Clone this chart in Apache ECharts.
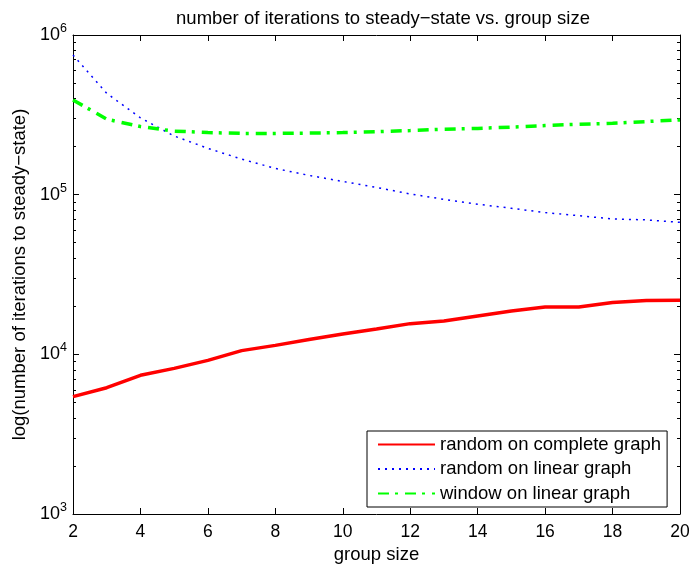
<!DOCTYPE html>
<html>
<head>
<meta charset="utf-8">
<script src="https://cdn.jsdelivr.net/npm/echarts@6/dist/echarts.min.js"></script>
<style>
  html, body { margin: 0; padding: 0; background: #fff; }
  #chart { width: 691px; height: 565px; }
</style>
</head>
<body>
<div id="chart"></div>
<script>
// group sizes on the x axis
var groupSizes = [2, 3, 4, 5, 6, 7, 8, 9, 10, 11, 12, 13, 14, 15, 16, 17, 18, 19, 20];
// iterations to steady-state
var randomComplete = [5430, 6180, 7390, 8170, 9170, 10550, 11380, 12400, 13400, 14400,
  15570, 16180, 17400, 18660, 19770, 19770, 21100, 21700, 21800];
var randomLinear = [750000, 431000, 303000, 233000, 195000, 167000, 146000, 132000, 121000, 111000,
  101000, 93500, 87100, 82200, 77200, 73900, 70400, 69500, 67100];
var windowLinear = [392000, 297000, 267000, 250000, 245000, 242000, 242000, 243000, 245000, 248000,
  252000, 257000, 260000, 265000, 271000, 276000, 280000, 287000, 294000];
var seriesNames = ['random on complete graph', 'random on linear graph', 'window on linear graph'];
// minor ticks of the log axis
var minorTicks = [2000, 3000, 4000, 5000, 6000, 7000, 8000, 9000,
  20000, 30000, 40000, 50000, 60000, 70000, 80000, 90000,
  200000, 300000, 400000, 500000, 600000, 700000, 800000, 900000];

var FONT = 'Liberation Sans, Arial, sans-serif';
var FS = 18.5;
var chart = echarts.init(document.getElementById('chart'));

function pairs(ys) {
  return groupSizes.map(function (x, i) { return [x, ys[i]]; });
}

function logAxis(pos, major) {
  return {
    type: 'log',
    logBase: 10,
    position: pos,
    min: 1000,
    max: 1000000,
    axisLine: { show: major, lineStyle: { color: '#000', width: 1 } },
    axisTick: major
      ? { inside: true, length: 6, lineStyle: { color: '#000' } }
      : { inside: true, length: 3, customValues: minorTicks, lineStyle: { color: '#000' } },
    splitLine: { show: false },
    axisLabel: { show: false }
  };
}

var yLeft = logAxis('left', true);
yLeft.name = 'log(number of iterations to steady\u2212state)';
yLeft.nameLocation = 'middle';
yLeft.nameGap = 39;
yLeft.nameTextStyle = { fontFamily: FONT, fontSize: FS, color: '#000' };
yLeft.axisLabel = {
  show: true,
  margin: 6,
  formatter: function (v) {
    return '{b|10}{s|' + Math.round(Math.log10(v)) + '}';
  },
  rich: {
    b: { fontFamily: FONT, fontSize: 18, color: '#000' },
    s: { fontFamily: FONT, fontSize: 12.5, color: '#000', padding: [0, 0, 13, 0] }
  }
};

function xAxis(pos, labels) {
  return {
    type: 'value',
    position: pos,
    min: 2,
    max: 20,
    interval: 2,
    axisLine: { show: true, onZero: false, lineStyle: { color: '#000', width: 1 } },
    axisTick: { inside: true, length: 6, lineStyle: { color: '#000' } },
    splitLine: { show: false },
    axisLabel: labels
      ? { show: true, margin: 9, fontFamily: FONT, fontSize: 17.5, color: '#000' }
      : { show: false }
  };
}

var xBottom = xAxis('bottom', true);
xBottom.name = 'group size';
xBottom.nameLocation = 'middle';
xBottom.nameGap = 30;
xBottom.nameTextStyle = { fontFamily: FONT, fontSize: FS, color: '#000' };

var option = {
  backgroundColor: '#fff',
  animation: false,
  title: {
    text: 'number of iterations to steady\u2212state vs. group size',
    left: 378,
    textAlign: 'center',
    top: 4,
    textStyle: { fontFamily: FONT, fontSize: FS, fontWeight: 'normal', color: '#000' }
  },
  grid: { left: 73, right: 11, top: 35, bottom: 51, outerBoundsMode: 'none' },
  legend: {
    orient: 'vertical',
    left: 367,
    top: 431,
    padding: [4, 6, 4, 10],
    itemGap: 5.5,
    itemWidth: 57,
    itemHeight: 18,
    borderColor: '#000',
    borderWidth: 1,
    borderRadius: 0,
    backgroundColor: '#fff',
    itemStyle: { opacity: 0 },
    textStyle: { fontFamily: FONT, fontSize: FS, color: '#000' },
    data: seriesNames
  },
  xAxis: [xBottom, xAxis('top', false)],
  yAxis: [yLeft, logAxis('right', true), logAxis('left', false), logAxis('right', false)],
  series: [
    {
      name: seriesNames[0],
      type: 'line',
      data: pairs(randomComplete),
      symbol: 'none',
      lineStyle: { color: '#ff0000', width: 3.5 },
      itemStyle: { color: '#ff0000' }
    },
    {
      name: seriesNames[1],
      type: 'line',
      data: pairs(randomLinear),
      symbol: 'none',
      lineStyle: { color: '#0000ff', width: 1.5, type: [2, 5] },
      itemStyle: { color: '#0000ff' }
    },
    {
      name: seriesNames[2],
      type: 'line',
      data: pairs(windowLinear),
      symbol: 'none',
      lineStyle: { color: '#00ff00', width: 3.5, type: [11, 6, 3, 7] },
      itemStyle: { color: '#00ff00' }
    }
  ]
};

chart.setOption(option);
</script>
</body>
</html>
